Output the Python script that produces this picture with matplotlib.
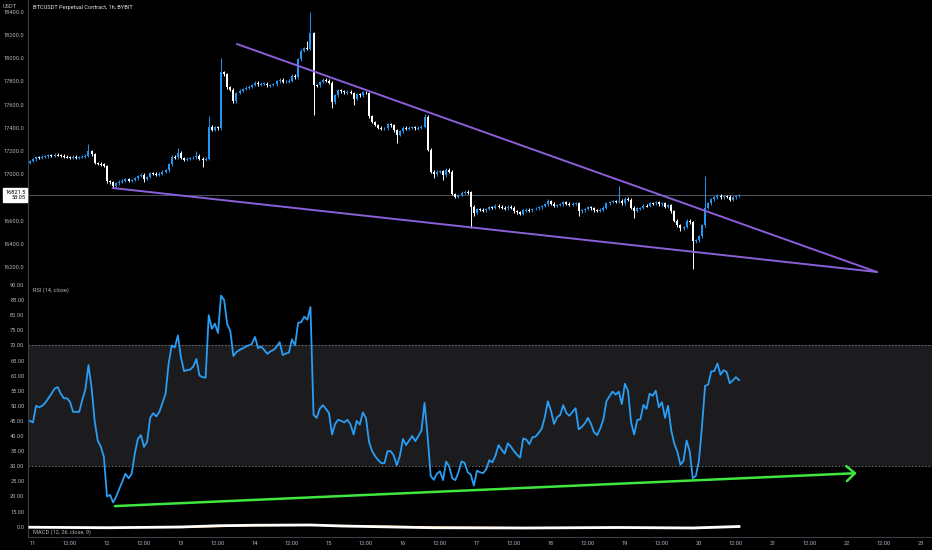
import numpy as np
import pandas as pd
import matplotlib
matplotlib.use('Agg')
import matplotlib.pyplot as plt
import matplotlib.dates as mdates
from matplotlib.transforms import blended_transform_factory

# hourly candles, first one is 2022-12-10 23:00
start = pd.Timestamp('2022-12-10 23:00')

close = [
    17114,
    17130, 17148, 17145, 17150, 17155, 17165, 17160, 17168, 17165, 17160, 17150, 17148,
    17145, 17150, 17142, 17148, 17155, 17160, 17200, 17170, 17096, 17090, 17085, 17070,
    16940, 16930, 16900, 16920, 16935, 16945, 16955, 16945, 16950, 16965, 16985, 16995,
    16960, 16975, 17010, 17005, 17000, 17005, 17020, 17035, 17085, 17150, 17145, 17185,
    17140, 17125, 17135, 17140, 17145, 17160, 17135, 17130, 17135, 17410, 17385, 17405,
    17395, 17880, 17860, 17750, 17730, 17630, 17700, 17720, 17735, 17745, 17755, 17770,
    17790, 17775, 17780, 17780, 17765, 17770, 17775, 17800, 17815, 17795, 17800, 17805,
    17850, 17835, 17990, 18065, 18085, 18080, 18220, 17770, 17765, 17795, 17815, 17805,
    17790, 17620, 17680, 17726, 17715, 17705, 17710, 17700, 17650, 17690, 17680, 17705,
    17700, 17500, 17450, 17425, 17400, 17390, 17395, 17430, 17420, 17380, 17340, 17370,
    17400, 17395, 17400, 17405, 17395, 17400, 17410, 17495, 17210, 17020, 17000, 17020,
    17025, 16990, 17040, 17020, 16830, 16805, 16820, 16840, 16850, 16845, 16720, 16665,
    16700, 16695, 16690, 16700, 16715, 16710, 16730, 16720, 16710, 16705, 16720, 16710,
    16680, 16670, 16660, 16690, 16695, 16690, 16700, 16705, 16715, 16725, 16740, 16765,
    16745, 16725, 16735, 16740, 16760, 16745, 16740, 16745, 16752, 16680, 16690, 16700,
    16715, 16705, 16690, 16685, 16695, 16710, 16750, 16760, 16768, 16762, 16770, 16750,
    16790, 16780, 16710, 16685, 16705, 16708, 16730, 16725, 16750, 16748, 16760, 16740,
    16748, 16720, 16735, 16680, 16600, 16560, 16535, 16545, 16600, 16585, 16420, 16430,
    16465, 16560, 16710, 16750, 16785, 16800, 16815, 16800, 16810, 16805, 16780, 16800, 16812, 16821.5,
]
first_open = 17100

# notable wicks (hours after 2022-12-11 00:00)
wick_high_hours = [18, 47, 53, 57, 61, 89, 90, 91, 127, 167, 190, 218]
wick_high_vals = [17260, 17230, 17200, 17500, 18000, 18150, 18400, 18230, 17520, 16790, 16900, 16985]
wick_low_hours = [26, 36, 55, 91, 97, 104, 118, 130, 133, 142, 143, 177, 195, 210, 214]
wick_low_vals = [16880, 16930, 17060, 17510, 17570, 17600, 17270, 16970, 16950, 16536, 16640, 16640, 16625, 16510, 16185]

rsi = [
    45,
    44.5, 50, 49.5, 50, 51, 52.5, 54, 55.7, 56.2, 54, 52.5, 52.5,
    51.3, 48, 48, 48, 52, 55.5, 63.5, 56, 45, 38.5, 36.5, 33,
    20, 20.5, 18, 20, 22.5, 25, 27.5, 26, 27.5, 34, 39, 40.3,
    36.4, 38, 46, 47.6, 46.5, 48, 51, 54, 64, 70, 69.3, 73.3,
    66, 61.5, 61.8, 62, 63, 65.5, 60, 59.5, 59.3, 80, 75.5, 77.2,
    74.1, 86.5, 85, 77, 74.8, 66.5, 67.8, 68.5, 69, 69.6, 70, 70.5,
    72.8, 69.1, 69.6, 68.5, 67.2, 68, 68.5, 69.5, 71.1, 66.8, 67.3, 67.6,
    72, 70, 77.5, 77.7, 79.5, 78.5, 82.7, 47, 46, 49, 50.2, 49,
    47.6, 40.5, 44, 45.4, 45, 44.5, 45.4, 43.8, 40.5, 45, 43.8, 47.8,
    46, 38, 35, 33.3, 32, 31, 31, 35, 35, 33.6, 30.3, 33.4,
    39, 37, 38.5, 40, 38.3, 40, 41.8, 51, 40, 26.8, 25.5, 27.5,
    28.3, 25.4, 31.5, 30, 26, 25.4, 28, 31.6, 31.1, 28, 27.2, 23.6,
    28.5, 28, 27.7, 29, 32, 31.3, 33.5, 37, 35.5, 34.2, 37.6, 36.5,
    35, 33.8, 32.8, 39.2, 38.8, 37.3, 39.6, 39.8, 41, 42.4, 46.2, 51.5,
    48.4, 44, 46.2, 47, 50.2, 47.6, 46.7, 48, 49.2, 42.2, 43, 44.2,
    46, 44, 41.2, 40.3, 42.5, 45.5, 51.5, 53.2, 54.7, 53.7, 54.7, 50.6,
    57.3, 55, 44.5, 40.5, 45.3, 45.5, 50.3, 49, 54, 53.3, 55, 49.5,
    51.2, 46, 50, 42, 37.5, 34.8, 30.5, 31.8, 38.5, 35, 26, 26.8,
    31.8, 43.3, 56.6, 57, 61.4, 61.5, 64, 60.3, 61.8, 61.2, 57.5, 58.4, 59.5, 58.5,
]

# macd panel (squashed), sampled points
macd_hours = [-1, 24, 48, 60, 72, 90, 100, 130, 160, 190, 214, 229]
macd_vals = [-5, -15, 0, 25, 35, 40, 20, -15, -20, -10, -20, 10]
signal_vals = [-3, -10, -8, 10, 28, 35, 30, 0, -15, -12, -15, 0]

# price axis labels (16800 sits under the last-price box)
price_ticks = [16200, 16400, 16600, 17000, 17200, 17400, 17600, 17800, 18000, 18200, 18400]

# drawings (hour, value)
upper_line = [(66.2, 18122), (273.7, 16157)]
lower_line = [(25.9, 16881), (273.7, 16157)]
rsi_arrow = [(26.6, 16.8), (267.2, 27.7)]
last_price = 16821.5

base = pd.Timestamp('2022-12-11 00:00')


def hnum(h):
    return mdates.date2num(base + pd.Timedelta(hours=h))


times = pd.date_range(start, periods=len(close), freq='h')
xs = mdates.date2num(times)
close = np.array(close, dtype=float)
opens = np.concatenate([[first_open], close[:-1]])
highs = np.maximum(opens, close) + 12
lows = np.minimum(opens, close) - 12
for h, v in zip(wick_high_hours, wick_high_vals):
    highs[h + 1] = v
for h, v in zip(wick_low_hours, wick_low_vals):
    lows[h + 1] = v

bg = '#000000'
txt = '#b2b5be'
sep = '#3a3d47'
up_col = '#2196f3'
down_col = '#ffffff'
purple = '#8b5fd8'
green = '#3ee63e'
fs = 4.1
plt.rcParams['font.family'] = ['Roboto', 'DejaVu Sans']

fig = plt.figure(figsize=(9.32, 5.5), dpi=100, facecolor=bg)
L = 28 / 932
ax_p = fig.add_axes([L, 1 - 283 / 550, 1 - L, 283 / 550])
ax_r = fig.add_axes([L, 1 - 523 / 550, 1 - L, 240 / 550], sharex=ax_p)
ax_m = fig.add_axes([L, 1 - 537 / 550, 1 - L, 14 / 550], sharex=ax_p)

for ax in (ax_p, ax_r, ax_m):
    ax.set_facecolor(bg)
    for s in ('top', 'right'):
        ax.spines[s].set_visible(False)
    ax.spines['left'].set_color(sep)
    ax.spines['bottom'].set_color(sep)
    ax.spines['left'].set_linewidth(0.8)
    ax.spines['bottom'].set_linewidth(0.8)
    ax.tick_params(axis='y', length=0, pad=2.5, labelsize=fs, colors=txt)
    ax.tick_params(axis='x', length=0, labelsize=fs, colors=txt)

# candles
cols = np.where(close >= opens, up_col, down_col)
ax_p.vlines(xs, lows, highs, colors=cols, linewidth=0.7, zorder=2)
bw = 0.65 / 24
body_h = np.abs(close - opens)
body_b = np.minimum(opens, close)
small = body_h < 8
body_b = np.where(small, body_b - 4, body_b)
body_h = np.where(small, 8, body_h)
ax_p.bar(xs, body_h, bottom=body_b, width=bw, color=cols, linewidth=0, zorder=3)

ax_p.axhline(last_price, color='#5d606b', linewidth=0.6, zorder=1)
ax_p.plot([hnum(p[0]) for p in upper_line], [p[1] for p in upper_line], color=purple, lw=1.4, zorder=4)
ax_p.plot([hnum(p[0]) for p in lower_line], [p[1] for p in lower_line], color=purple, lw=1.4, zorder=4)

ax_p.set_ylim(16062, 18502)
ax_p.set_yticks(price_ticks)
ax_p.yaxis.set_major_formatter(plt.FuncFormatter(lambda v, p: f'{v:.1f}'))
ax_p.text(0.0055, 0.975, 'BTCUSDT Perpetual Contract, 1h, BYBIT', transform=ax_p.transAxes,
          color='#e0e3eb', fontsize=fs, va='center', ha='left')
tr = blended_transform_factory(ax_p.transAxes, ax_p.transData)
ax_p.text(-0.003, last_price, '16821.5\n53:05', transform=tr, ha='right', va='center',
          multialignment='right', fontsize=fs, color='black', linespacing=1.1,
          bbox=dict(boxstyle='square,pad=0.35', fc='white', ec='white'), zorder=10, clip_on=False)
fig.text(3 / 932, 1 - 6 / 550, 'USDT', color=txt, fontsize=fs, va='center', ha='left')
plt.setp(ax_p.get_xticklabels(), visible=False)

# RSI
ax_r.axhspan(30, 70, color='#1c1c1e', zorder=0, linewidth=0)
ax_r.axhline(70, color='#787b86', lw=0.6, ls=(0, (2, 2)), zorder=1)
ax_r.axhline(30, color='#787b86', lw=0.6, ls=(0, (2, 2)), zorder=1)
ax_r.plot(xs, rsi, color='#2a9df4', lw=1.3, zorder=3)
ax_r.annotate('', xy=(hnum(rsi_arrow[1][0]), rsi_arrow[1][1]),
              xytext=(hnum(rsi_arrow[0][0]), rsi_arrow[0][1]),
              arrowprops=dict(arrowstyle='->,head_length=0.5,head_width=0.45', color=green,
                              lw=1.8, mutation_scale=12, shrinkA=0, shrinkB=0), zorder=4)
ax_r.set_ylim(11.2, 90.66)
ax_r.set_yticks(np.arange(15, 91, 5))
ax_r.yaxis.set_major_formatter(plt.FuncFormatter(lambda v, p: f'{v:.2f}'))
ax_r.text(0.0055, 0.97, 'RSI (14, close)', transform=ax_r.transAxes, color=txt,
          fontsize=fs, va='center', ha='left')
plt.setp(ax_r.get_xticklabels(), visible=False)

# MACD
ax_m.plot([hnum(h) for h in macd_hours], signal_vals, color='#ff9800', lw=1.0, zorder=2)
ax_m.plot([hnum(h) for h in macd_hours], macd_vals, color='white', lw=2.0, zorder=3)
ax_m.set_ylim(-200, 80)
ax_m.set_yticks([0])
ax_m.yaxis.set_major_formatter(plt.FuncFormatter(lambda v, p: '0.0'))
ax_m.text(0.0055, 0.35, 'MACD (12, 26, close, 9)', transform=ax_m.transAxes, color=txt,
          fontsize=fs, va='center', ha='left')

ax_m.set_xlim(hnum(-1.62), hnum(291.6))
ax_m.xaxis.set_major_locator(mdates.HourLocator(byhour=[0, 12]))


def fmt_x(v, pos):
    d = mdates.num2date(v)
    return str(d.day) if d.hour == 0 else '12:00'


ax_m.xaxis.set_major_formatter(plt.FuncFormatter(fmt_x))
ax_m.tick_params(axis='x', pad=3)

fig.savefig('out.png', dpi=100, facecolor=bg)
